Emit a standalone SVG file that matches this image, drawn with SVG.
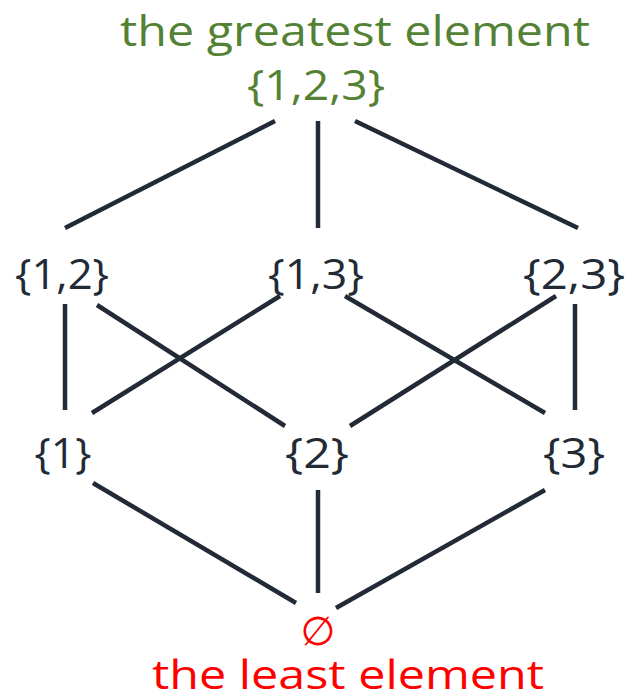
<svg xmlns="http://www.w3.org/2000/svg" width="626" height="699" viewBox="0 0 626 699">
<style>
text{font-family:"Open Sans","DejaVu Sans",sans-serif;font-size:42px;text-anchor:middle}
.n{fill:#222a35}
.g{fill:#548235}
.r{fill:#ff0000}
#edges line{stroke:#222a35;stroke-width:4.5;stroke-linecap:butt}
</style>
<rect width="626" height="699" fill="#ffffff"/>
<g id="edges">
<line x1="275" y1="121" x2="65" y2="228"/>
<line x1="318" y1="121" x2="318" y2="228"/>
<line x1="355" y1="121" x2="578" y2="228"/>
<line x1="65" y1="304" x2="65" y2="410"/>
<line x1="97" y1="305" x2="285" y2="426"/>
<line x1="280" y1="296" x2="92" y2="413"/>
<line x1="345" y1="296" x2="545" y2="413"/>
<line x1="556" y1="296" x2="350" y2="426"/>
<line x1="575" y1="304" x2="575" y2="410"/>
<line x1="93" y1="483" x2="296" y2="603"/>
<line x1="318" y1="490" x2="318" y2="593"/>
<line x1="545" y1="490" x2="336" y2="608"/>
</g>
<g id="top-label"><text class="g" x="355" y="46" textLength="470" lengthAdjust="spacingAndGlyphs">the greatest element</text></g>
<g id="n123"><text class="g" x="316" y="100" textLength="138" lengthAdjust="spacingAndGlyphs">{1,2,3}</text></g>
<g id="n12"><text class="n" x="62" y="289" textLength="94" lengthAdjust="spacingAndGlyphs">{1,2}</text></g>
<g id="n13"><text class="n" x="316" y="289" textLength="96" lengthAdjust="spacingAndGlyphs">{1,3}</text></g>
<g id="n23"><text class="n" x="574" y="289" textLength="102" lengthAdjust="spacingAndGlyphs">{2,3}</text></g>
<g id="n1"><text class="n" x="63" y="468" textLength="57" lengthAdjust="spacingAndGlyphs">{1}</text></g>
<g id="n2"><text class="n" x="317" y="468" textLength="64" lengthAdjust="spacingAndGlyphs">{2}</text></g>
<g id="n3"><text class="n" x="574" y="468" textLength="62" lengthAdjust="spacingAndGlyphs">{3}</text></g>
<g id="empty"><text class="r" x="318" y="645" style="font-size:40px">∅</text></g>
<g id="bottom-label"><text class="r" x="348" y="689" style="font-size:40px" textLength="392" lengthAdjust="spacingAndGlyphs">the least element</text></g>
</svg>
